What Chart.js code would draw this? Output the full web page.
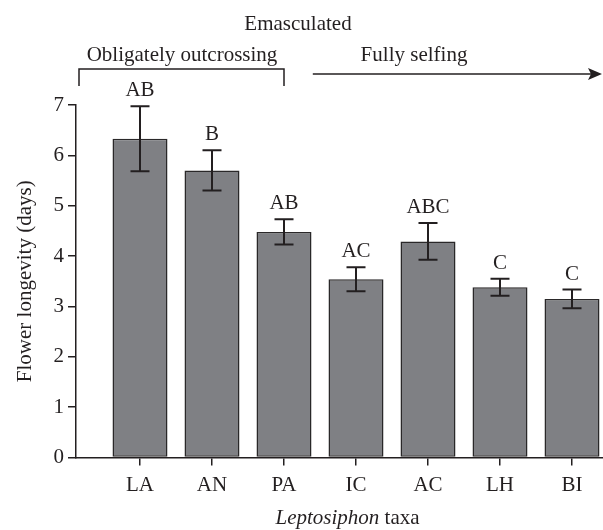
<!DOCTYPE html>
<html>
<head>
<meta charset="utf-8">
<script src="https://cdn.jsdelivr.net/npm/chart.js@4"></script>
<style>
  html, body { margin: 0; padding: 0; background: #fff; }
  #wrap { width: 603px; height: 530px; }
</style>
</head>
<body>
<div id="wrap"><canvas id="longevityChart" width="603" height="530"></canvas></div>
<script>
// taxa and flower longevity (mean +/- SE)
const taxa = ["LA", "AN", "PA", "IC", "AC", "LH", "BI"];
const longevity = [6.33, 5.70, 4.48, 3.54, 4.29, 3.38, 3.15];
const stdErr = [0.645, 0.40, 0.25, 0.24, 0.365, 0.17, 0.185];
const groups = ["AB", "B", "AB", "AC", "ABC", "C", "C"];
const yTicks = [0, 1, 2, 3, 4, 5, 6, 7];

const serif = "'Liberation Serif', 'Times New Roman', serif";
const ink = "#231f20";

// error bars, letters, header annotations and the italic x title
const extras = {
    id: "extras",
    afterDatasetsDraw(chart) {
        const ctx = chart.ctx;
        const x = chart.scales.x, y = chart.scales.y;
        ctx.save();
        ctx.strokeStyle = ink;
        ctx.fillStyle = ink;
        ctx.lineWidth = 2;
        ctx.font = "21px " + serif;
        ctx.textAlign = "center";
        ctx.textBaseline = "alphabetic";
        longevity.forEach((m, i) => {
            const px = x.getPixelForValue(i);
            const top = y.getPixelForValue(m + stdErr[i]);
            const bot = y.getPixelForValue(m - stdErr[i]);
            ctx.beginPath();
            ctx.moveTo(px, top); ctx.lineTo(px, bot);
            ctx.moveTo(px - 9.5, top); ctx.lineTo(px + 9.5, top);
            ctx.moveTo(px - 9.5, bot); ctx.lineTo(px + 9.5, bot);
            ctx.stroke();
            ctx.fillText(groups[i], px, top - 10);
        });
        ctx.restore();
    },
    afterDraw(chart) {
        const ctx = chart.ctx;
        const x = chart.scales.x;
        ctx.save();
        ctx.fillStyle = ink;
        ctx.strokeStyle = ink;
        ctx.lineWidth = 1.5;
        ctx.textAlign = "center";
        ctx.textBaseline = "alphabetic";
        ctx.font = "21px " + serif;
        ctx.fillText("Emasculated", 298, 30);
        ctx.fillText("Obligately outcrossing", 182, 61);
        ctx.fillText("Fully selfing", 414, 61);

        // bracket over the outcrossing taxa
        const bl = x.left + 3, br = x.getPixelForValue(2);
        ctx.beginPath();
        ctx.moveTo(bl, 86); ctx.lineTo(bl, 69); ctx.lineTo(br, 69); ctx.lineTo(br, 86);
        ctx.stroke();

        // arrow towards selfing
        const as = x.getPixelForValue(2.4), ae = chart.width - 1;
        ctx.beginPath();
        ctx.moveTo(as, 74); ctx.lineTo(ae - 10, 74);
        ctx.stroke();
        ctx.beginPath();
        ctx.moveTo(ae, 74); ctx.lineTo(ae - 14, 68); ctx.lineTo(ae - 11, 74); ctx.lineTo(ae - 14, 80);
        ctx.closePath();
        ctx.fill();

        // x title: italic genus + plain "taxa"
        ctx.textAlign = "left";
        const italic = "italic 21px " + serif, plain = "21px " + serif;
        ctx.font = italic;
        const w1 = ctx.measureText("Leptosiphon").width;
        ctx.font = plain;
        const w2 = ctx.measureText(" taxa").width;
        const sx = 347.5 - (w1 + w2) / 2;
        ctx.font = italic;
        ctx.fillText("Leptosiphon", sx, 524);
        ctx.font = plain;
        ctx.fillText(" taxa", sx + w1, 524);
        ctx.restore();
    }
};

new Chart(document.getElementById("longevityChart").getContext("2d"), {
    type: "bar",
    data: {
        datasets: [{
            data: longevity.map((v, i) => ({ x: i, y: v })),
            backgroundColor: "#7f8084",
            borderColor: "#2a2829",
            borderWidth: 1.5,
            borderSkipped: false,
            barPercentage: 0.764,
            categoryPercentage: 1
        }]
    },
    options: {
        responsive: false,
        animation: false,
        layout: { padding: { top: 105, left: 0, right: 0, bottom: 0 } },
        plugins: { legend: { display: false }, tooltip: { enabled: false } },
        scales: {
            x: {
                type: "linear",
                offset: false,
                min: -64 / 72,
                max: -64 / 72 + 527 / 72,
                afterBuildTicks: (s) => { s.ticks = taxa.map((t, i) => ({ value: i })); },
                afterFit: (s) => { s.height = 72.5; },
                grid: { offset: false, drawOnChartArea: false, drawTicks: true, tickLength: 8, color: ink, lineWidth: 1.5 },
                border: { color: ink, width: 1.5 },
                ticks: {
                    color: ink,
                    font: { family: serif, size: 21 },
                    padding: 7,
                    maxRotation: 0,
                    autoSkip: false,
                    callback: (v) => taxa[v]
                }
            },
            y: {
                min: 0,
                max: 7,
                afterBuildTicks: (s) => { s.ticks = yTicks.map((v) => ({ value: v })); },
                afterFit: (s) => { s.width = 76; },
                grid: { drawOnChartArea: false, drawTicks: true, tickLength: 8, color: ink, lineWidth: 1.5 },
                border: { color: ink, width: 1.5 },
                ticks: { color: ink, font: { family: serif, size: 21 }, padding: 4 },
                title: {
                    display: true,
                    text: "Flower longevity (days)",
                    color: ink,
                    font: { family: serif, size: 21 },
                    padding: { top: 13, bottom: 0 }
                }
            }
        }
    },
    plugins: [extras]
});
</script>
</body>
</html>
